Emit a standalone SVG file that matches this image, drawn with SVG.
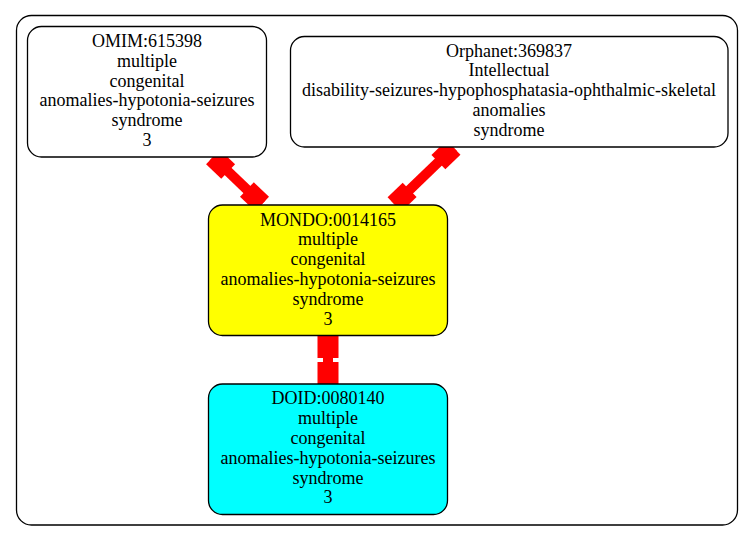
<svg xmlns="http://www.w3.org/2000/svg" width="755" height="541" viewBox="0 0 755 541">
<style>
.bg{fill:#ffffff}
.cluster{fill:none;stroke:#000;stroke-width:1.3}
.node{stroke:#000;stroke-width:1.3}
.lbl{font-family:"Liberation Serif","Times New Roman",serif;font-size:18px;fill:#000;text-anchor:middle}
.edge line{stroke:#ff0000;stroke-width:10}
.edge rect{fill:#ff0000}
</style>
<rect class="bg" x="0" y="0" width="755" height="541"/>
<rect class="cluster" x="16.5" y="15.5" width="721" height="509.5" rx="15" ry="15"/>
<g id="connectors">
  <g class="edge" transform="translate(213,157) rotate(43.8)">
    <line x1="0" y1="0" x2="68" y2="0"/>
    <rect x="0" y="-10" width="21" height="20"/>
    <rect x="47" y="-10" width="21" height="20"/>
  </g>
  <g class="edge" transform="translate(453.5,147.5) rotate(136)">
    <line x1="0" y1="0" x2="82" y2="0"/>
    <rect x="0" y="-10" width="21" height="20"/>
    <rect x="61" y="-10" width="21" height="20"/>
  </g>
  <g class="edge" transform="translate(328,336) rotate(90)">
    <line x1="0" y1="0" x2="48" y2="0"/>
    <rect x="0" y="-10.5" width="22" height="21"/>
    <rect x="26" y="-10.5" width="22" height="21"/>
  </g>
</g>
<g id="omim">
  <rect class="node" x="27.5" y="26.5" width="239" height="130.5" rx="14" ry="14" fill="#ffffff"/>
  <text class="lbl" x="147" y="47">OMIM:615398</text>
  <text class="lbl" x="147" y="66.8">multiple</text>
  <text class="lbl" x="147" y="86.6">congenital</text>
  <text class="lbl" x="147" y="106.4">anomalies-hypotonia-seizures</text>
  <text class="lbl" x="147" y="126.2">syndrome</text>
  <text class="lbl" x="147" y="146">3</text>
</g>
<g id="orphanet">
  <rect class="node" x="290.5" y="36.5" width="437.5" height="110.5" rx="14" ry="14" fill="#ffffff"/>
  <text class="lbl" x="509" y="56.5">Orphanet:369837</text>
  <text class="lbl" x="509" y="76.3">Intellectual</text>
  <text class="lbl" x="509" y="96.1">disability-seizures-hypophosphatasia-ophthalmic-skeletal</text>
  <text class="lbl" x="509" y="115.9">anomalies</text>
  <text class="lbl" x="509" y="135.7">syndrome</text>
</g>
<g id="mondo">
  <rect class="node" x="208.5" y="205" width="239" height="130.5" rx="14" ry="14" fill="#ffff00"/>
  <text class="lbl" x="328" y="225.5">MONDO:0014165</text>
  <text class="lbl" x="328" y="245.3">multiple</text>
  <text class="lbl" x="328" y="265.1">congenital</text>
  <text class="lbl" x="328" y="284.9">anomalies-hypotonia-seizures</text>
  <text class="lbl" x="328" y="304.7">syndrome</text>
  <text class="lbl" x="328" y="324.5">3</text>
</g>
<g id="doid">
  <rect class="node" x="208.5" y="384" width="239" height="130.5" rx="14" ry="14" fill="#00ffff"/>
  <text class="lbl" x="328" y="404.3">DOID:0080140</text>
  <text class="lbl" x="328" y="424.1">multiple</text>
  <text class="lbl" x="328" y="443.9">congenital</text>
  <text class="lbl" x="328" y="463.7">anomalies-hypotonia-seizures</text>
  <text class="lbl" x="328" y="483.5">syndrome</text>
  <text class="lbl" x="328" y="503.3">3</text>
</g>
</svg>
